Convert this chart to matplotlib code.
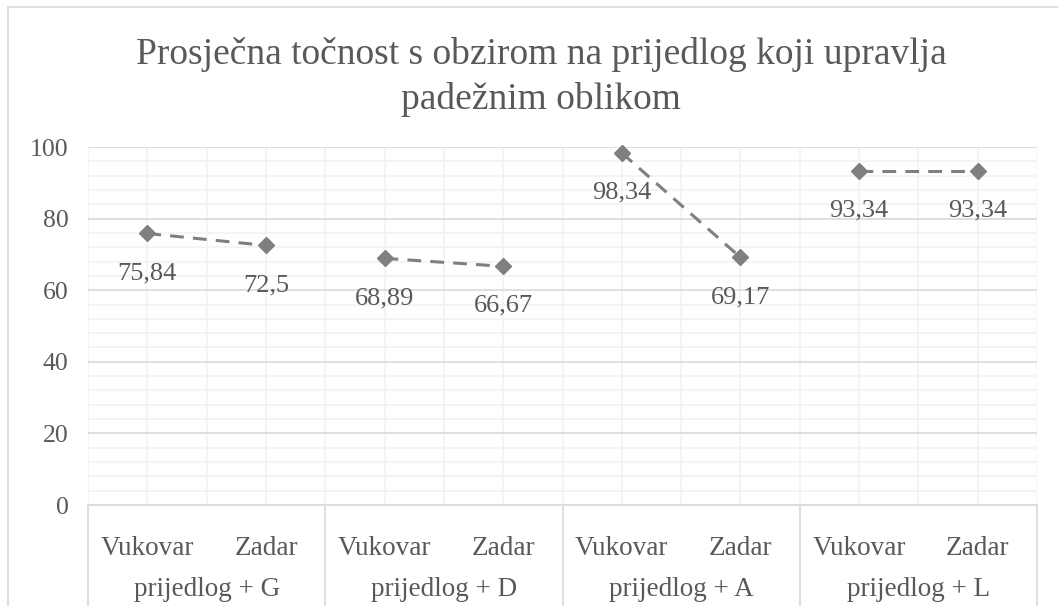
import numpy as np
import matplotlib
matplotlib.use('agg')
import matplotlib.pyplot as plt
from matplotlib.patches import Rectangle
from matplotlib.ticker import MultipleLocator

groups = ['prijedlog + G', 'prijedlog + D', 'prijedlog + A', 'prijedlog + L']
cities = ['Vukovar', 'Zadar']
values = [[75.84, 72.5], [68.89, 66.67], [98.34, 69.17], [93.34, 93.34]]
labels = [['75,84', '72,5'], ['68,89', '66,67'], ['98,34', '69,17'], ['93,34', '93,34']]

TEXT = '#595959'
SERIF = ['Liberation Serif', 'DejaVu Serif']
plt.rcParams['font.family'] = SERIF

W, H = 1058, 606
fig = plt.figure(figsize=(W / 100, H / 100), dpi=100)
fig.patches.append(Rectangle((8 / W, -0.1), 1.2, 1 - 7 / H + 0.1,
                             transform=fig.transFigure, fill=False,
                             edgecolor='#d9d9d9', lw=1.2))

ax = fig.add_axes([88 / W, 1 - 505 / H, (1037 - 88) / W, (505 - 147) / H])
ax.set_xlim(-0.5, 2 * len(groups) - 0.5)
ax.set_ylim(0, 100)
ax.yaxis.set_major_locator(MultipleLocator(20))
ax.yaxis.set_minor_locator(MultipleLocator(4))
ax.xaxis.set_major_locator(MultipleLocator(0.5))
ax.grid(which='minor', axis='y', color='#f2f2f2', lw=1.2)
ax.grid(which='major', axis='y', color='#d9d9d9', lw=1.2)
ax.grid(which='major', axis='x', color='#f2f2f2', lw=1.2)
ax.set_axisbelow(True)
for s in ['top', 'right', 'left']:
    ax.spines[s].set_visible(False)
ax.spines['bottom'].set_color('#d9d9d9')
ax.spines['bottom'].set_linewidth(1.2)
ax.tick_params(axis='both', which='both', length=0)
ax.tick_params(axis='y', labelsize=18.5, labelcolor=TEXT, pad=14)
ax.set_xticklabels([])

for g, (vals, labs) in enumerate(zip(values, labels)):
    xs = np.arange(len(vals)) + 2 * g
    ax.plot(xs, vals, color='#7f7f7f', lw=2.2, dashes=(4.5, 3),
            marker='D', ms=8.5, zorder=3, clip_on=False)
    for x, v, t in zip(xs, vals, labs):
        ax.annotate(t, (x, v), xytext=(0, -28.5), textcoords='offset points',
                    ha='center', va='center', fontsize=19, color=TEXT,
                    family=SERIF)
    for x, c in zip(xs, cities):
        ax.text(x, -0.122, c, transform=ax.get_xaxis_transform(),
                ha='center', va='center', fontsize=19.5, color=TEXT,
                family=SERIF)
    ax.text(2 * g + 0.5, -0.235, groups[g], transform=ax.get_xaxis_transform(),
            ha='center', va='center', fontsize=19.5, color=TEXT, family=SERIF)

# separators of the category axis
for b in np.arange(len(groups) + 1) * 2 - 0.5:
    ax.plot([b, b], [0, -0.3], transform=ax.get_xaxis_transform(),
            color='#d9d9d9', lw=1.2, clip_on=False)

fig.text(541 / W, 1 - 77 / H,
         'Prosječna točnost s obzirom na prijedlog koji upravlja\npadežnim oblikom',
         ha='center', va='center', fontsize=27, color=TEXT, linespacing=1.4,
         family=SERIF)

fig.savefig('out.png', dpi=100)
